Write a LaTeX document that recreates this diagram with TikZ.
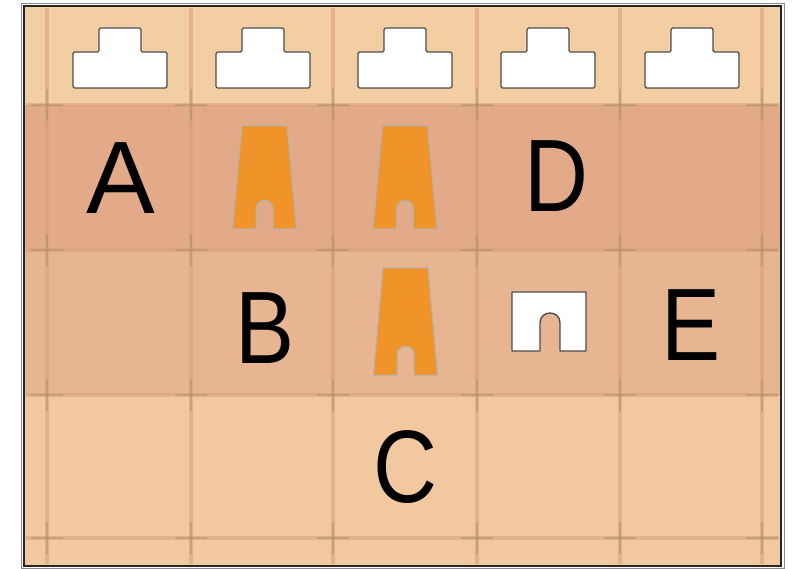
\documentclass[tikz,border=0pt]{standalone}
\usepackage{fontspec}
\setmainfont{Liberation Sans}
\newfontfamily\narrowfont[FakeStretch=0.86]{Liberation Sans}
\usetikzlibrary{positioning}

\definecolor{topband}{RGB}{244,206,163}
\definecolor{rowone}{RGB}{226,170,137}
\definecolor{rowtwo}{RGB}{232,181,146}
\definecolor{rowthree}{RGB}{242,200,160}
\definecolor{gridbrown}{RGB}{214,160,118}
\definecolor{crossolive}{RGB}{150,138,96}
\definecolor{pieceorange}{RGB}{240,148,42}

\begin{document}
\begin{tikzpicture}[x=1pt, y=-1pt,
	letter/.style={inner sep=0pt, font=\narrowfont\fontsize{103}{103}\selectfont},
	gridline/.style={draw=gridbrown, line width=4pt, opacity=.55},
	cross/.style={draw=crossolive, line width=2.5pt, opacity=.4},
	hole/.style={fill=white, draw=black!70, line width=1.4pt, line join=round},
	piece/.style={fill=pieceorange, draw=black!30, line width=1pt, line join=round}]
	\useasboundingbox[fill=white] (0,0) rectangle (798,569);
	% board, one band per row
	\fill[topband] (24,6) rectangle (781,105);
	\fill[rowone] (24,105) rectangle (781,250);
	\fill[rowtwo] (24,250) rectangle (781,395);
	\fill[rowthree] (24,395) rectangle (781,566);
	% grid lines and the marks where they cross
	\foreach \x in {47,191,333,477,620,762}
		\draw[gridline] (\x,8) -- (\x,564);
	\foreach \y in {105,250,395,538}
		\draw[gridline] (26,\y) -- (779,\y);
	\foreach \x in {47,191,333,477,620,762}
		\foreach \y in {105,250,395,538} {
			\draw[cross] (\x-16,\y) -- (\x+16,\y);
			\draw[cross] (\x,\y-16) -- (\x,\y+16);
		}
	% frame
	\draw[black!45, line width=.8pt] (21,3) rectangle (784,568);
	\draw[black!85, line width=2.5pt] (24,6) rectangle (781,566);
	% empty slots along the top
	\foreach \c in {120,263,405,548,692}
		\draw[hole, rounded corners=1.5pt] (\c-47,88) -- (\c-47,52) -- (\c-21,52) -- (\c-21,28)
			-- (\c+21,28) -- (\c+21,52) -- (\c+47,52) -- (\c+47,88) -- cycle;
	% orange pieces: centre, top, bottom
	\foreach \c/\t/\b in {264.5/126/229, 405/126/229, 405.5/268/375}
		\draw[piece] (\c-22.5,\t) -- (\c+22.5,\t) -- (\c+32,\b) -- (\c+8.5,\b) -- (\c+8.5,\b-20)
			.. controls (\c+8.5,\b-31.3) and (\c-8.5,\b-31.3) .. (\c-8.5,\b-20)
			-- (\c-8.5,\b) -- (\c-32,\b) -- cycle;
	% empty place of a piece
	\draw[hole] (512,292) -- (586,292) -- (586,351) -- (560,351) -- (560,323)
		.. controls (560,309.7) and (540,309.7) .. (540,323)
		-- (540,351) -- (512,351) -- cycle;
	% letters
	\node[letter, font=\fontsize{103}{103}\selectfont] (a) at (121,178.5) {A};
	\node[letter] (d) at (556,176) {D};
	\node[letter] (b) at (265,328) {B};
	\node[letter] (e) at (691,325) {E};
	\node[letter] (c) at (405,467) {C};
\end{tikzpicture}
\end{document}
